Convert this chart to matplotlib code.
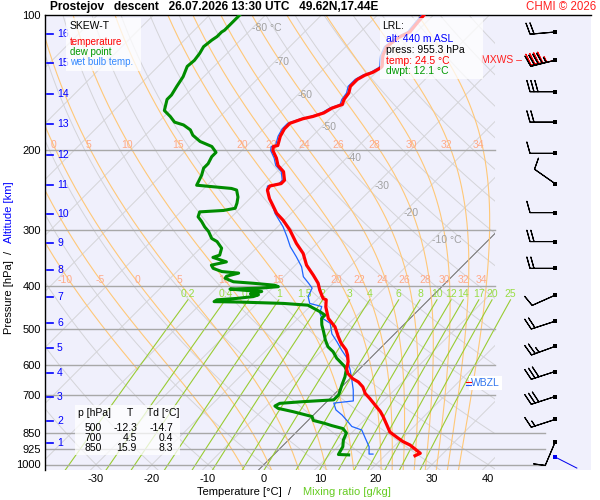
import numpy as np
import matplotlib
matplotlib.use('Agg')
import matplotlib.pyplot as plt
from matplotlib.patches import Rectangle

plt.rcParams['font.family'] = ['Liberation Sans', 'DejaVu Sans']

# ---------------- data ----------------
temp_p = [956, 944, 905, 889, 869, 847, 817, 782, 762, 743, 713, 695, 672, 655, 644, 627, 613, 591, 571, 556,
          537, 519, 494, 473, 446, 430, 427, 409, 395, 379, 360, 339, 322, 301, 286, 276, 265, 256, 245, 240,
          237, 233, 223, 216, 208, 200, 196, 195, 186, 179, 174, 170, 168, 165, 161, 158, 154, 149, 144, 139,
          136, 134, 131, 130, 123, 117.5, 112, 109, 104, 100]
temp_t = [25.4, 25.9, 22.6, 20.7, 18.8, 16.7, 14.9, 12.7, 11.3, 9.7, 7.1, 5.4, 3.8, 2.1, 0.5, -1.3, -2.3, -3.3, -4.6, -5.8,
          -7.9, -9.6, -11.9, -14.6, -17.1, -18.3, -19.1, -21.2, -22.7, -25.0, -28.0, -30.7, -33.7, -37.2, -40.2, -42.6, -44.7, -46.5, -48.4, -48.7,
          -47.1, -47.1, -48.8, -50.9, -52.5, -54.5, -55.1, -54.5, -55.7, -56.3, -56.3, -54.8, -53.4, -52.1, -51.5, -50.3, -50.9, -51.2, -52.1, -52.1,
          -51.5, -50.6, -50.0, -50.0, -51.8, -52.7, -52.2, -51.2, -51.5, -51.7]

dwpt_p = [952, 950, 913, 882, 851, 832, 819, 810, 798, 782,
          763, 750, 741, 731, 725, 718, 700, 682, 665, 638,
          616, 606, 580, 561, 547, 528, 506, 489, 473, 465,
          457, 442, 438, 435, 434, 430, 427, 423, 419, 417,
          412, 411, 407, 405, 402, 399, 395, 392, 385, 381,
          375, 372, 366, 360, 354, 346, 342, 330, 319, 314,
          303, 296, 288, 281, 274, 272, 269, 262, 254, 245,
          243, 239, 227, 219, 214, 206.5, 202, 196, 191, 185,
          180, 175.5, 173, 168, 163, 154, 150.5, 144, 137, 130,
          126, 121.6, 117.5, 113.6, 111.6, 109, 108, 105, 101.6, 100]
dwpt_t = [13.4, 11.5, 10.9, 9.8, 9.1, 7.7, 5.1, 3.5, 0.95, 0.0,
          -4.2, -7.5, -8.5, -8.1, -4.5, 0.9, 0.9, 0.3, -0.3, -1.2,
          -2.2, -3.0, -6.0, -7.8, -9.6, -11.3, -13.1, -14.6, -15.8, -15.8,
          -17.3, -20.6, -25.3, -33.3, -38.0, -37.8, -34.6, -31.9, -31.3, -32.9,
          -31.3, -32.9, -37.4, -32.2, -29.2, -30.1, -34.3, -38.1, -40.2, -40.3,
          -38.7, -42.0, -44.1, -45.0, -42.9, -46.1, -45.3, -46.2, -48.2, -49.7,
          -51.5, -53.0, -54.5, -56.0, -56.6, -52.6, -50.9, -51.5, -52.4, -53.9,
          -55.1, -61.9, -62.8, -63.7, -63.7, -64.3, -64.3, -66.1, -69.1, -71.5,
          -72.9, -75.0, -77.1, -78.9, -81.0, -82.5, -82.5, -83.1, -83.7, -84.8,
          -84.6, -84.9, -85.4, -85.1, -84.8, -84.8, -84.6, -84.6, -84.6, -84.6]

wetb_p = [948, 948, 913, 874, 838, 823, 800, 776, 756, 730, 722, 682, 642, 616, 579, 556, 534, 512, 485, 472,
          460, 445, 438, 423, 405, 395, 382, 363, 345, 327.5, 311, 296, 276, 262, 245,
          240, 237, 233, 223, 216, 208, 200, 196, 195, 186, 179, 174, 170, 168, 165, 161, 158, 154, 149, 144,
          139, 136, 134, 131, 130, 123, 117.5, 112, 109, 104, 100]
wetb_t = [17.6, 16.9, 15.6, 13.4, 11.3, 8.9, 7.1, 5.1, 3.1, 1.5, 4.6, 2.6, 0.2, -1.5, -4.25, -6.6, -8.8, -11.2, -13.4, -15.8,
          -17.1, -17.9, -20.6, -22.1, -22.9, -24.4, -26.5, -28.6, -31.3, -34.2, -36.6, -39.0, -42.9, -45.3, -48.5,
          -49.1, -47.5, -47.5, -49.2, -51.3, -52.9, -54.9, -55.5, -54.9, -56.1, -56.7, -56.7, -55.2, -53.8, -52.5, -51.9, -50.7, -51.3, -51.6, -52.5,
          -52.5, -51.9, -51.0, -50.4, -50.4, -52.2, -53.1, -52.6, -51.6, -51.9, -52.1]

wind_p = [109, 126, 148, 173, 203, 237, 275, 319, 366, 420, 480, 546, 621, 706, 794, 893]
wind_dir = [265, 256, 270, 270, 270, 305, 270, 270, 270, 246, 252, 250, 252, 252, 252, 203]
wind_spd = [20, 45, 30, 20, 10, 10, 10, 20, 20, 10, 20, 25, 30, 30, 15, 10]
sfc_wind_p = 962
sfc_wind_dir = 117

alt_km = [1, 2, 3, 4, 5, 6, 7, 8, 9, 10, 11, 12, 13, 14, 15, 16]
alt_p = [896, 800, 708, 626, 550, 484, 424, 369, 321, 277, 239, 205, 175, 150, 128, 110]

p_ticks = [100, 200, 300, 400, 500, 600, 700, 850, 925, 1000]
t_ticks = [-30, -20, -10, 0, 10, 20, 30, 40]
isotherm_labels = [-80, -70, -60, -50, -40, -30, -20, -10]
isotherm_label_p = [106.8, 127.0, 150.8, 177.6, 207.8, 240.0, 275.6, 316.6]
thw_values = [-10, -5, 0, 5, 10, 15, 20, 22, 24, 26, 28, 30, 32, 34]
mixr_values = [0.2, 0.4, 0.6, 1, 1.5, 2, 3, 4, 6, 8, 10, 12, 14, 17, 20, 25]
table_rows = [("500", "-12.3", "-14.7"), ("700", "4.5", "0.4"), ("850", "15.9", "8.3")]
wbzl_p = 659

# ---------------- geometry ----------------
W, H = 600, 500
PX0 = 264.0        # 0 degC at 1000 hPa (px)
PXC = 5.6          # px per degC
Y1000 = 464.5
PXDEC = 449.3      # px per decade of pressure
SKEW = PXDEC / PXC
XL_PX, XR_PX, YT_PX, YB_PX = 45, 591, Y1000 - PXDEC, 470
XCLIP = (495 - PX0) / PXC
THW_SHIFT = 0.9    # chart's pseudo-adiabats sit slightly warmer


def sx(t, p):
    return np.asarray(t, float) + SKEW * np.log10(1000.0 / np.asarray(p, float))


def px2X(x):
    return (x - PX0) / PXC


def py2p(y):
    return 1000.0 * 10 ** (-(Y1000 - y) / PXDEC)


fig = plt.figure(figsize=(6, 5), dpi=100)
fig.patch.set_facecolor('white')
ax = fig.add_axes([XL_PX / W, (H - YB_PX) / H, (XR_PX - XL_PX) / W, (YB_PX - YT_PX) / H])
ax.set_facecolor('#F0F0FC')
ax.set_yscale('log')
pbot = py2p(YB_PX)
ax.set_ylim(pbot, 100)
ax.set_xlim(px2X(XL_PX), px2X(XR_PX))
ax.minorticks_off()
for s in ['right', 'bottom']:
    ax.spines[s].set_visible(False)
for s in ['left', 'top']:
    ax.spines[s].set_color('black')
    ax.spines[s].set_linewidth(1.0)

clip = Rectangle((px2X(XL_PX), 100), XCLIP - px2X(XL_PX), pbot - 100, transform=ax.transData)

pp = np.logspace(np.log10(pbot + 2), 2, 300)

# isotherms
for t in range(-140, 50, 10):
    ln, = ax.plot(sx(np.full_like(pp, t), pp), pp, color='#D4D4D8', lw=0.7, zorder=1)
    ln.set_clip_path(clip)
ln, = ax.plot(sx(np.zeros_like(pp), pp), pp, color='#707070', lw=0.7, zorder=2)
ln.set_clip_path(clip)

# dry adiabats
for th in range(-40, 200, 10):
    tt = (th + 273.15) * (pp / 1000.0) ** 0.2857 - 273.15
    ln, = ax.plot(sx(tt, pp), pp, color='#D4D4D8', lw=0.7, zorder=1)
    ln.set_clip_path(clip)


# pseudo-adiabats
def moist(thw):
    Rd, cp, Lv, eps = 287.04, 1005.7, 2.501e6, 0.622

    def f(T, lnp):
        p = np.exp(lnp)
        es = 6.112 * np.exp(17.67 * (T - 273.15) / (T - 29.65))
        r = eps * es / (p - es)
        return (Rd * T + Lv * r) / (cp + Lv ** 2 * r * eps / (Rd * T ** 2))

    def integ(plist):
        T = thw + 273.15
        lnp = np.log(1000.0)
        out = []
        for p in plist:
            target = np.log(p)
            n = 4
            h = (target - lnp) / n
            for _ in range(n):
                k1 = f(T, lnp)
                k2 = f(T + h * k1 / 2, lnp + h / 2)
                k3 = f(T + h * k2 / 2, lnp + h / 2)
                k4 = f(T + h * k3, lnp + h)
                T = T + h * (k1 + 2 * k2 + 2 * k3 + k4) / 6
                lnp += h
            out.append(T - 273.15)
        return out

    up = np.logspace(3, 2, 200)
    dn = np.linspace(1000, pbot + 2, 5)
    tu = integ(up)
    td = integ(dn)
    pall = np.concatenate([dn[::-1], up])
    tall = np.concatenate([td[::-1], tu])
    return pall, np.array(tall)


p_lab = [(py2p(150), py2p(145)), (py2p(285), py2p(280))]
for thw in thw_values:
    pl, tl = moist(thw + THW_SHIFT)
    keep = pl <= 620 if thw < -5 else np.ones_like(pl, bool)
    ln, = ax.plot(sx(tl[keep], pl[keep]), pl[keep], color='#FFC878', lw=0.8, zorder=2)
    ln.set_clip_path(clip)
    xs = sx(tl, pl)
    for pline, ptext in p_lab:
        xl = np.interp(np.log(pline), np.log(pl[::-1]), xs[::-1])
        if px2X(55) < xl < XCLIP:
            ax.text(xl + 0.15, ptext, f"{thw}", color='#FFAA88', fontsize=7.5, ha='right', va='center', zorder=3)

# mixing ratio lines
pm = np.logspace(np.log10(pbot + 2), np.log10(430), 60)
p_ml = py2p(294)
for r in mixr_values:
    e = pm * r / (622.0 + r)
    lg = np.log(e / 6.112)
    td = 243.5 * lg / (17.67 - lg)
    ax.plot(sx(td, pm), pm, color='#99CC33', lw=0.8, zorder=2)
    lab = ('%g' % r)
    ax.text(sx(td[-1], pm[-1]), p_ml, lab, color='#99DD44', fontsize=7.5, ha='center', va='center', zorder=3)

# pressure lines
for p in p_ticks[1:]:
    xr = px2X(545) if p >= 850 else XCLIP
    ax.plot([px2X(XL_PX), xr], [p, p], color='#A8A8A8', lw=1.0, zorder=2)

# isotherm labels
for t, p in zip(isotherm_labels, isotherm_label_p):
    s = f"{t} °C" if t in (-80, -10) else f"{t}"
    ax.text(sx(t, p), p, s, color='#A0A0A0', fontsize=7.5, ha='left', va='center', zorder=3)

# profiles
ax.plot(sx(wetb_t, wetb_p), wetb_p, color='#1E64FF', lw=0.9, zorder=5)
ax.plot(sx(dwpt_t, dwpt_p), dwpt_p, color='#008C00', lw=2.2, zorder=6)
ax.plot(sx(temp_t, temp_p), temp_p, color='#FF0000', lw=2.3, zorder=7)

# wind barbs
xb = px2X(555)
wd = np.radians(wind_dir)
u = -np.array(wind_spd) * np.sin(wd)
v = -np.array(wind_spd) * np.cos(wd)
ax.barbs(np.full(len(wind_p), xb), wind_p, u, v, length=6.0, linewidth=0.8, color='black', zorder=8,
         sizes=dict(spacing=0.16, height=0.45))
# maximum wind speed level (red)
i = 1
wr = np.radians(wind_dir[i] + 4)
ax.barbs([xb], [wind_p[i]], [-wind_spd[i] * np.sin(wr)], [-wind_spd[i] * np.cos(wr)], length=6.0,
         linewidth=0.8, color='red', zorder=7, sizes=dict(spacing=0.16, height=0.45))
ax.scatter(np.full(len(wind_p), xb), wind_p, s=7, marker='s', color='black', zorder=9, linewidths=0)
ax.text(px2X(522), wind_p[1], "MXWS –", color='#FF2020', fontsize=7.5, ha='right', va='center', zorder=9)

sr = np.radians(sfc_wind_dir)
ax.quiver([xb], [sfc_wind_p], [25 * np.sin(sr)], [25 * np.cos(sr)], angles='uv', scale_units='dots', scale=1,
          units='dots', width=1.0, headwidth=0, headlength=0, headaxislength=0, color='#0000EE', zorder=9)
ax.scatter([xb], [sfc_wind_p], s=9, marker='s', color='#0000EE', zorder=9, linewidths=0)

# WBZL
ax.text(px2X(471), wbzl_p, "WBZL", color='#3377EE', fontsize=7.5, ha='left', va='center', zorder=9,
        bbox=dict(facecolor='white', edgecolor='none', pad=1.5))
ax.plot([px2X(466), px2X(471)], [py2p(381.5)] * 2, color='red', lw=0.8, zorder=10)
ax.plot([px2X(466), px2X(471)], [py2p(384.5)] * 2, color='#2255FF', lw=0.8, zorder=10)

# altitude ticks
for km, p in zip(alt_km, alt_p):
    ax.plot([px2X(47), px2X(53)], [p, p], color='#0000FF', lw=1.2, zorder=9)
    ax.text(px2X(57), p, str(km), color='#0000FF', fontsize=7.5, ha='left', va='center', zorder=9)

# axes ticks
ax.set_yticks(p_ticks)
ax.set_yticklabels([str(p) for p in p_ticks], fontsize=8)
ax.set_xticks(t_ticks)
ax.set_xticklabels([str(t) for t in t_ticks], fontsize=8)
ax.tick_params(length=0, pad=3)


# ---------------- figure-level texts / boxes ----------------
def ftext(x, y, s, **kw):
    fig.text(x / W, 1 - y / H, s, **kw)


def fbox(x0, y0, x1, y1, alpha=0.75):
    fig.patches.append(Rectangle((x0 / W, 1 - y1 / H), (x1 - x0) / W, (y1 - y0) / H, transform=fig.transFigure,
                                 facecolor='white', edgecolor='none', alpha=alpha, figure=fig, zorder=20))


ftext(50, 7, "Prostejov   descent   26.07.2026 13:30 UTC   49.62N,17.44E", fontsize=8.6, fontweight='bold',
      ha='left', va='center')
ftext(596, 7, "CHMI © 2026", fontsize=8.3, color='#FF2020', ha='right', va='center')

ftext(9, 297, "Pressure [hPa]", rotation=90, fontsize=8, ha='center', va='center')
ftext(9, 252, "/", rotation=90, fontsize=8, ha='center', va='center')
ftext(9, 212, "Altitude [km]", rotation=90, fontsize=8, ha='center', va='center', color='#0000FF')

ftext(197, 492, "Temperature [°C]", fontsize=8, ha='left', va='center')
ftext(288, 492, "/", fontsize=8, ha='left', va='center')
ftext(303, 492, "Mixing ratio [g/kg]", fontsize=8, ha='left', va='center', color='#66CC22')

# legend box
fbox(66, 18, 141, 71)
ftext(70, 26, "SKEW-T", fontsize=7.5, ha='left', va='center', zorder=21)
ftext(70, 42, "temperature", fontsize=7, color='#FF0000', ha='left', va='center', zorder=21)
ftext(70, 52, "dew point", fontsize=7, color='#009900', ha='left', va='center', zorder=21)
ftext(70, 62, "wet bulb temp.", fontsize=7, color='#3388FF', ha='left', va='center', zorder=21)

# LRL box
fbox(380, 18, 483, 79)
ftext(382, 26, "LRL:", fontsize=7.5, ha='left', va='center', zorder=21)
ftext(386, 39, "alt: 440 m ASL", fontsize=7.5, color='#0000FF', ha='left', va='center', zorder=21)
ftext(386, 50, "press: 955.3 hPa", fontsize=7.5, color='black', ha='left', va='center', zorder=21)
ftext(386, 61, "temp: 24.5 °C", fontsize=7.5, color='#FF0000', ha='left', va='center', zorder=21)
ftext(386, 71, "dwpt: 12.1 °C", fontsize=7.5, color='#009900', ha='left', va='center', zorder=21)

# level table
fbox(75, 405, 180, 455)
ftext(78, 413, "p [hPa]", fontsize=7.5, ha='left', va='center', zorder=21)
ftext(127, 413, "T", fontsize=7.5, ha='left', va='center', zorder=21)
ftext(147, 413, "Td [°C]", fontsize=7.5, ha='left', va='center', zorder=21)
for k, (pl, tv, tdv) in enumerate(table_rows):
    yy = 428 + 10 * k
    ftext(102, yy, pl, fontsize=7.5, ha='right', va='center', zorder=21)
    ftext(137, yy, tv, fontsize=7.5, ha='right', va='center', zorder=21)
    ftext(173, yy, tdv, fontsize=7.5, ha='right', va='center', zorder=21)

fig.savefig('out.png', dpi=100)
